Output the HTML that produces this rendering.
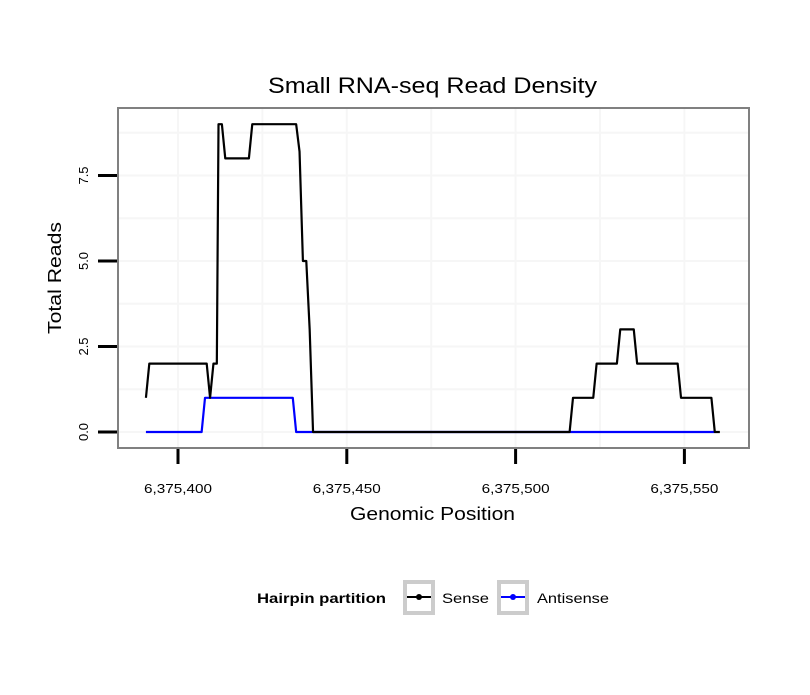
<!DOCTYPE html>
<html><head><meta charset="utf-8"><style>
body{margin:0;background:#fff;}
svg text{font-family:"Liberation Sans",Arial,sans-serif;}
</style></head><body>
<svg id="chart" width="810" height="690" xmlns="http://www.w3.org/2000/svg">
<rect width="810" height="690" fill="#fff"/>
<text x="268" y="93" font-size="22" textLength="329" lengthAdjust="spacingAndGlyphs">Small RNA-seq Read Density</text>
<g id="grid"></g>
<g id="series"></g>
<rect x="118" y="108" width="631" height="340" fill="none" stroke="#808080" stroke-width="2"/>
<g id="axes"></g>
<text x="350" y="520" font-size="18" textLength="165" lengthAdjust="spacingAndGlyphs">Genomic Position</text>
<text transform="translate(61,278) rotate(-90)" font-size="18" text-anchor="middle" textLength="112" lengthAdjust="spacingAndGlyphs">Total Reads</text>
<g>
<text x="257" y="603" font-size="14" font-weight="bold" textLength="129" lengthAdjust="spacingAndGlyphs">Hairpin partition</text>
<g>
<rect x="405" y="582" width="28" height="31" fill="#fff" stroke="#ccc" stroke-width="4"/>
<line x1="407" y1="597" x2="431" y2="597" stroke="#000" stroke-width="2"/>
<circle cx="419" cy="597" r="3" fill="#000"/>
<text x="442" y="603" font-size="14" textLength="47" lengthAdjust="spacingAndGlyphs">Sense</text></g>
<g>
<rect x="499" y="582" width="28" height="31" fill="#fff" stroke="#ccc" stroke-width="4"/>
<line x1="501" y1="597" x2="525" y2="597" stroke="#00f" stroke-width="2"/>
<circle cx="513" cy="597" r="3" fill="#00f"/>
<text x="537" y="603" font-size="14" textLength="72" lengthAdjust="spacingAndGlyphs">Antisense</text></g>
</g>
</svg>
<script>
const senseX=[6375390.5,6375391.5,6375408.5,6375409.5,6375410.5,6375411.5,6375412,6375413,6375414,6375421,6375422,6375435,6375436,6375437,6375438,6375439,6375440,6375516,6375517,6375523,6375524,6375530,6375531,6375535,6375536,6375548,6375549,6375558,6375559,6375560.5];
const senseY=[1,2,2,1,2,2,9,9,8,8,9,9,8.2,5,5,3,0,0,1,1,2,2,3,3,2,2,1,1,0,0];
const antiX=[6375390.5,6375407,6375408,6375434,6375435,6375559];
const antiY=[0,0,1,1,0,0];
const xTicks=[6375400,6375450,6375500,6375550];
const xTickLabels=["6,375,400","6,375,450","6,375,500","6,375,550"];
const yTicks=[0,2.5,5,7.5];
const yTickLabels=["0.0","2.5","5.0","7.5"];
const sx=v=>178+(v-6375400)*3.376;
const sy=v=>432-v*34.2;
const NS="http://www.w3.org/2000/svg";
function mk(tag,attrs,parent){const e=document.createElementNS(NS,tag);for(const k in attrs)e.setAttribute(k,attrs[k]);parent.appendChild(e);return e;}
const grid=document.getElementById('grid'),axes=document.getElementById('axes'),ser=document.getElementById('series');
[6375375,6375400,6375425,6375450,6375475,6375500,6375525,6375550,6375575].forEach(v=>{const x=sx(v);if(x>119&&x<748){const l=mk('line',{x1:x,x2:x,y1:109,y2:447,stroke:'#f6f6f6','stroke-width':2},grid);}});
[0,1.25,2.5,3.75,5,6.25,7.5,8.75].forEach(v=>{const y=sy(v);const l=mk('line',{x1:119,x2:748,y1:y,y2:y,stroke:'#f6f6f6','stroke-width':2},grid);});
function path(xs,ys,color,name){const d=xs.map((x,i)=>(i?'L':'M')+sx(x)+','+sy(ys[i])).join(' ');const p=mk('path',{d:d,fill:'none',stroke:color,'stroke-width':2.2,'stroke-linejoin':'round'},ser);}
path(antiX,antiY,'#0000ff','antisense-line');
path(senseX,senseY,'#000000','sense-line');
xTicks.forEach((v,i)=>{const x=sx(v);const t=mk('line',{x1:x,x2:x,y1:449,y2:464,stroke:'#000','stroke-width':3},axes);const tx=mk('text',{x:x-34,y:493,'font-size':13,textLength:68,lengthAdjust:'spacingAndGlyphs'},axes);tx.textContent=xTickLabels[i];});
yTicks.forEach((v,i)=>{const y=sy(v);const t=mk('line',{x1:98,x2:117,y1:y,y2:y,stroke:'#000','stroke-width':3},axes);const tx=mk('text',{transform:`translate(88,${y}) rotate(-90)`,'font-size':13,'text-anchor':'middle'},axes);tx.textContent=yTickLabels[i];});
</script>
</body></html>
